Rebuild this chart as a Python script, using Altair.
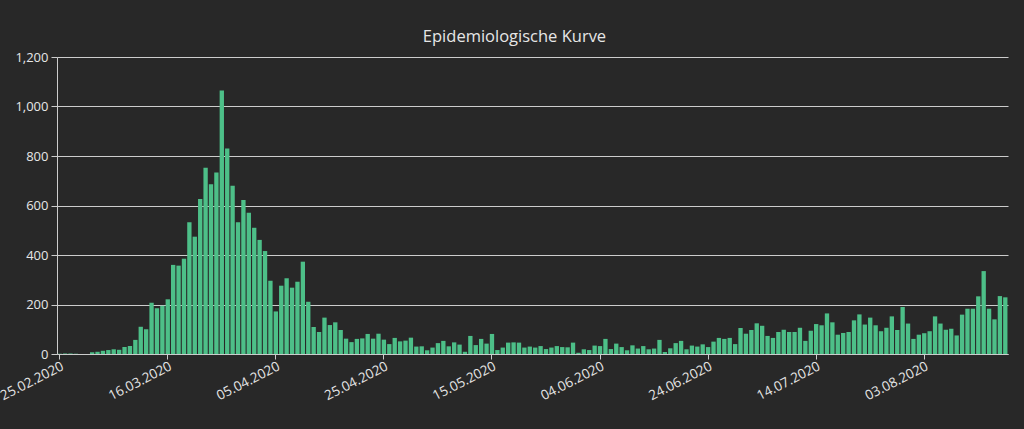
import altair as alt
import pandas as pd

start_date = "2020-02-25"
n_days = 176
dates = pd.date_range(start_date, periods=n_days, freq="D").strftime("%d.%m.%Y").tolist()

cases = [
    1, 2, 2, 1, 0, 0, 7, 9, 13, 16, 19, 17, 28, 32, 57,
    110, 100, 207, 185, 195, 221, 360, 357, 385,
    532, 474, 626, 753, 686, 733, 1065, 830, 680, 532, 622, 571, 510, 461, 416, 296, 172, 276, 306, 268, 292, 373,
    211, 109, 89, 147, 117, 128, 97, 62, 48, 61, 63, 81, 62, 82, 58, 40, 65, 51, 54, 66, 30, 31,
    15, 26, 44, 53, 31, 47, 38, 9, 73, 36, 61, 42, 81, 16, 26, 46, 47, 46, 26, 30, 26, 32,
    20, 26, 32, 28, 27, 46, 5, 19, 16, 34, 32, 61, 20, 42, 28, 15, 35, 22, 32, 19, 22, 57, 8,
    23, 44, 53, 19, 34, 30, 39, 28, 50, 65, 61, 65, 40, 105, 82, 97, 124, 114, 73, 65, 89, 98,
    89, 89, 106, 53, 94, 121, 116, 164, 128, 78, 85, 89, 136, 160, 119, 147, 116, 92, 106, 152, 97, 190,
    123, 61, 78, 84, 92, 152, 123, 98, 102, 75, 159, 183, 183, 233, 335, 183, 140, 234, 229,
]

x_tick_labels = [
    "25.02.2020", "16.03.2020", "05.04.2020", "25.04.2020", "15.05.2020",
    "04.06.2020", "24.06.2020", "14.07.2020", "03.08.2020",
]
y_ticks = [0, 200, 400, 600, 800, 1000, 1200]

df = pd.DataFrame({"Datum": dates, "Faelle": cases})

FONT = "Open Sans"
TEXT = "#e6e6e6"
LINE = "#cccccc"

chart = (
    alt.Chart(df)
    .mark_bar(color="#4dbf88")
    .encode(
        x=alt.X(
            "Datum:O",
            sort=None,
            scale=alt.Scale(paddingInner=0.2, paddingOuter=0.1),
            axis=alt.Axis(
                values=x_tick_labels,
                labelAngle=-27,
                labelAlign="right",
                labelBaseline="top",
                labelOverlap=False,
                labelPadding=0,
                labelFontSize=13.5,
                tickSize=5,
                title=None,
            ),
        ),
        y=alt.Y(
            "Faelle:Q",
            scale=alt.Scale(domain=[0, 1200]),
            axis=alt.Axis(
                values=y_ticks,
                title=None,
                grid=True,
                tickSize=6,
                labelPadding=3,
            ),
        ),
    )
    .properties(
        width=951,
        height=297,
        background="#282828",
        padding={"left": 57, "top": 57, "right": 16, "bottom": 75},
        autosize=alt.AutoSizeParams(type="none"),
        title=alt.TitleParams(
            "Epidemiologische Kurve",
            font=FONT,
            fontSize=16.5,
            fontWeight="normal",
            color=TEXT,
            anchor="middle",
            baseline="alphabetic",
            offset=14,
            dx=-18,
            dy=21,
        ),
    )
    .configure_view(stroke=None)
    .configure_axis(
        labelFont=FONT,
        labelFontSize=13,
        labelColor=TEXT,
        domainColor=LINE,
        tickColor=LINE,
        gridColor=LINE,
        gridWidth=1,
        domainWidth=1,
    )
    .configure_axisX(grid=False)
)

chart.save("out.html", embed_options={"renderer": "svg", "actions": False})
